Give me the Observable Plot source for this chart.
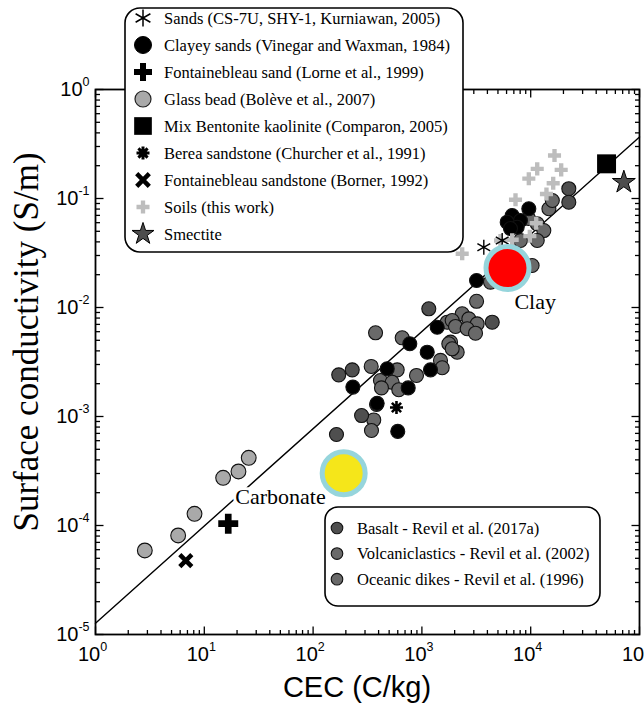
<!DOCTYPE html>
<html><head><meta charset="utf-8">
<script src="https://cdn.jsdelivr.net/npm/d3@7"></script>
<script src="https://cdn.jsdelivr.net/npm/@observablehq/plot@0.6"></script>
<style>html,body{margin:0;padding:0;background:#fff}svg{display:block}</style>
</head><body><div id="chart"></div>
<script>
// ---- data: [CEC (C/kg), surface conductivity (S/m)] ----
const fitLine = [[1, 1.27e-5], [1e5, 0.366]];
const sands = [[3707, 0.0357], [5470, 0.0412]];
const clayeySands = [[3180,0.0177],[1383,0.00659],[774,0.00465],[1119,0.00389],[1200,0.00268],[480,0.00274],[232,0.00186],[748,0.00183],[388,0.00132],[600,0.00073],[6760,0.0698],[8050,0.0628],[6080,0.0606],[7510,0.0545],[9610,0.0805],[6520,0.053]];
const fontainebleauSand = [[16.6, 1.04e-4]];
const glassBeads = [[2.84,5.9e-5],[5.75,8.1e-5],[8.13,1.28e-4],[14.9,2.74e-4],[20.6,3.13e-4],[25.6,4.18e-4]];
const mixBentonite = [[49800, 0.208]];
const berea = [[584, 0.00121]];
const fontainebleauSandstone = [[6.76, 4.77e-5]];
const soils = [[16550,0.248],[11480,0.187],[19060,0.183],[9610,0.152],[16100,0.138],[13960,0.110],[7250,0.0973],[11240,0.0593],[9820,0.0451],[6760,0.0418],[2346,0.0311],[5280,0.0412]];
const smectite = [[71800, 0.141]];
const basalt = [[1157,0.00973],[172,0.00241],[164,0.000684],[279,0.00102],[4430,0.00733],[22400,0.123],[22400,0.0925],[229,0.00268]];
const volcaniclastics = [[375,0.00586],[659,0.00527],[1709,0.00733],[1832,0.00481],[1482,0.00327],[1537,0.0028],[342,0.00288],[593,0.00268],[416,0.00214],[533,0.00206],[425,0.00183],[613,0.00176],[892,0.00238],[383,0.00129],[361,0.00093],[344,0.000744]];
const oceanicDikes = [[2346,0.00875],[2700,0.00787],[1898,0.0076],[3222,0.00708],[2037,0.0067],[2608,0.00638],[3110,0.00581],[1767,0.00465],[2110,0.00389],[1898,0.00418],[3180,0.0114],[14700,0.0805],[15800,0.0959],[11480,0.0586],[13200,0.0508],[11480,0.0412],[10300,0.0243],[8050,0.0412],[4270,0.0171],[9550,0.0656]];
const carbonate = [[191, 3.02e-4]];
const clay = [[6120, 0.0230]];
const annotations = [["Clay", 11000, 0.0112], ["Carbonate", 50.2, 1.81e-4]];

// ---- axis ticks ----
const xMajor = [1, 10, 100, 1000, 10000, 100000];
const yMajor = [1e-5, 1e-4, 1e-3, 1e-2, 1e-1, 1];
const mantissas = [2, 3, 4, 5, 6, 7, 8, 9];
const xMinor = xMajor.slice(0, -1).flatMap(d => mantissas.map(m => d * m));
const yMinor = yMajor.slice(0, -1).flatMap(d => mantissas.map(m => d * m));
const xTitle = "CEC (C/kg)";
const yTitle = "Surface conductivity (S/m)";

const legendTop = [
  "Sands (CS-7U, SHY-1, Kurniawan, 2005)",
  "Clayey sands (Vinegar and Waxman, 1984)",
  "Fontainebleau sand (Lorne et al., 1999)",
  "Glass bead (Bolève et al., 2007)",
  "Mix Bentonite kaolinite (Comparon, 2005)",
  "Berea sandstone (Churcher et al., 1991)",
  "Fontainebleau sandstone (Borner, 1992)",
  "Soils (this work)",
  "Smectite"
];
const legendBottom = [
  "Basalt - Revil et al. (2017a)",
  "Volcaniclastics - Revil et al. (2002)",
  "Oceanic dikes - Revil et al. (1996)"
];

// ---- custom symbols ----
const tickSym = (dx, dy) => ({draw(ctx) { ctx.moveTo(0, 0); ctx.lineTo(dx, dy); }});
const star8 = (L) => ({draw(ctx) {
  for (let k = 0; k < 4; k++) {
    const a = k * Math.PI / 4;
    ctx.moveTo(-L * Math.cos(a), -L * Math.sin(a));
    ctx.lineTo(L * Math.cos(a), L * Math.sin(a));
  }
}});
const timesSym = (L) => ({draw(ctx) { ctx.moveTo(-L, -L); ctx.lineTo(L, L); ctx.moveTo(-L, L); ctx.lineTo(L, -L); }});

const X = d => d[0], Y = d => d[1];
const circ = (data, fill, r = 7) => Plot.dot(data, {x: X, y: Y, r, fill, stroke: "#111", strokeWidth: 1.1});

const plot = Plot.plot({
  width: 644, height: 706,
  marginLeft: 95, marginRight: 5, marginTop: 89, marginBottom: 72,
  style: {fontFamily: "'Liberation Sans', Arial, sans-serif", fontSize: "19px", color: "black", background: "white"},
  x: {type: "log", domain: [1, 1e5]},
  y: {type: "log", domain: [1e-5, 1]},
  marks: [
    Plot.line(fitLine, {x: X, y: Y, stroke: "black", strokeWidth: 1.4}),
    circ(glassBeads, "#a9a9a9", 7.4),
    circ(volcaniclastics, "#6a6a6a"),
    circ(oceanicDikes, "#696969"),
    circ(basalt, "#4f4f4f"),
    circ(clayeySands, "black"),
    Plot.dot(soils, {x: X, y: Y, symbol: "cross", r: 5.5, fill: "#bdbdbd"}),
    Plot.dot(sands, {x: X, y: Y, symbol: "asterisk", r: 7, stroke: "black", strokeWidth: 1.4}),
    Plot.dot(berea, {x: X, y: Y, symbol: star8(6.5), r: 7, fill: "none", stroke: "black", strokeWidth: 2.6}),
    Plot.dot(fontainebleauSand, {x: X, y: Y, symbol: "cross", r: 8.4, fill: "black"}),
    Plot.dot(fontainebleauSandstone, {x: X, y: Y, symbol: timesSym(6), r: 6, fill: "none", stroke: "black", strokeWidth: 4.5}),
    Plot.dot(mixBentonite, {x: X, y: Y, symbol: "square", r: 10.7, fill: "black"}),
    Plot.dot(smectite, {x: X, y: Y, symbol: "star", r: 7.2, fill: "#4d4d4d", stroke: "black", strokeWidth: 1}),
    Plot.dot(carbonate, {x: X, y: Y, r: 21.5, fill: "#f5e61a", stroke: "#96d5dc", strokeWidth: 5}),
    Plot.dot(clay, {x: X, y: Y, r: 21.5, fill: "#ff0000", stroke: "#96d5dc", strokeWidth: 5}),
    Plot.text(annotations, {x: d => d[1], y: d => d[2], text: d => d[0], fontFamily: "'Liberation Serif', 'Times New Roman', serif", fontSize: 22, fill: "black", stroke: "white", strokeWidth: 6}),
    // inward ticks on all four sides
    Plot.dot(xMajor, {x: d => d, frameAnchor: "bottom", symbol: tickSym(0, -8), r: 3, fill: "none", stroke: "black", strokeWidth: 1.3}),
    Plot.dot(xMinor, {x: d => d, frameAnchor: "bottom", symbol: tickSym(0, -4.5), r: 3, fill: "none", stroke: "black", strokeWidth: 1.3}),
    Plot.dot(xMajor, {x: d => d, frameAnchor: "top", symbol: tickSym(0, 8), r: 3, fill: "none", stroke: "black", strokeWidth: 1.3}),
    Plot.dot(xMinor, {x: d => d, frameAnchor: "top", symbol: tickSym(0, 4.5), r: 3, fill: "none", stroke: "black", strokeWidth: 1.3}),
    Plot.dot(yMajor, {y: d => d, frameAnchor: "left", symbol: tickSym(8, 0), r: 3, fill: "none", stroke: "black", strokeWidth: 1.3}),
    Plot.dot(yMinor, {y: d => d, frameAnchor: "left", symbol: tickSym(4.5, 0), r: 3, fill: "none", stroke: "black", strokeWidth: 1.3}),
    Plot.dot(yMajor, {y: d => d, frameAnchor: "right", symbol: tickSym(-8, 0), r: 3, fill: "none", stroke: "black", strokeWidth: 1.3}),
    Plot.dot(yMinor, {y: d => d, frameAnchor: "right", symbol: tickSym(-4.5, 0), r: 3, fill: "none", stroke: "black", strokeWidth: 1.3}),
    Plot.frame({stroke: "black", strokeWidth: 1.8}),
    Plot.axisX({ticks: xMajor, tickSize: 0, tickPadding: 12, label: null, fontSize: 20, tickFormat: d => "10|" + Math.round(Math.log10(d))}),
    Plot.axisY({ticks: yMajor, tickSize: 0, tickPadding: 6, label: null, fontSize: 20, tickFormat: d => "10|" + Math.round(Math.log10(d))})
  ]
});

const svg = d3.select(plot);
// superscript exponents on tick labels
svg.selectAll('g[aria-label="x-axis tick label"] text, g[aria-label="y-axis tick label"] text').each(function() {
  const parts = this.textContent.split("|");
  const t = d3.select(this);
  t.text(null);
  t.append("tspan").text(parts[0]);
  t.append("tspan").attr("font-size", 12.5).attr("dy", -10).text(parts[1].replace("−", "-"));
});
svg.selectAll('g[aria-label="x-axis tick label"] text').attr("dx", -3);

// axis titles
svg.append("text").attr("x", 357).attr("y", 697).attr("text-anchor", "middle")
  .attr("font-family", "'Liberation Sans', Arial, sans-serif").attr("font-size", 29).attr("fill", "black").text(xTitle);
svg.append("text").attr("transform", "translate(38,342) rotate(-90)").attr("text-anchor", "middle")
  .attr("font-family", "'Liberation Serif', 'Times New Roman', serif").attr("font-size", 35).attr("fill", "black").text(yTitle);

// top-left legend
const serif = "'Liberation Serif', 'Times New Roman', serif";
const lg = svg.append("g").attr("text-anchor", "start");
lg.append("rect").attr("x", 125).attr("y", 8).attr("width", 338).attr("height", 244).attr("rx", 15)
  .attr("fill", "white").attr("stroke", "black").attr("stroke-width", 1.6);
const sym = (type, size) => d3.symbol(type, size)();
const topSyms = [
  {d: sym(d3.symbolAsterisk, 205), fill: "none", stroke: "black", sw: 1.5},
  {d: sym(d3.symbolCircle, 227), fill: "black", stroke: "black", sw: 1},
  {d: sym(d3.symbolCross, 180), fill: "black", stroke: "none", sw: 0},
  {d: sym(d3.symbolCircle, 201), fill: "#a9a9a9", stroke: "#222", sw: 1.2},
  {d: sym(d3.symbolSquare, 313), fill: "black", stroke: "none", sw: 0},
  {d: d3.symbol(star8(6.5), 1)(), fill: "none", stroke: "black", sw: 3},
  {d: d3.symbol(timesSym(6.3), 1)(), fill: "none", stroke: "black", sw: 4.5},
  {d: sym(d3.symbolCross, 94), fill: "#bdbdbd", stroke: "none", sw: 0},
  {d: sym(d3.symbolStar, 150), fill: "#4d4d4d", stroke: "black", sw: 1}
];
legendTop.forEach((label, i) => {
  const y = 18 + 27 * i;
  const s = topSyms[i];
  lg.append("path").attr("d", s.d).attr("transform", `translate(143,${y})`)
    .attr("fill", s.fill).attr("stroke", s.stroke).attr("stroke-width", s.sw);
  lg.append("text").attr("x", 164).attr("y", y).attr("dy", "0.35em").attr("text-anchor", "start")
    .attr("font-family", serif).attr("font-size", 16.5).attr("fill", "black").text(label);
});

// bottom-right legend
const lb = svg.append("g").attr("text-anchor", "start");
lb.append("rect").attr("x", 325).attr("y", 507).attr("width", 275).attr("height", 99).attr("rx", 13)
  .attr("fill", "white").attr("stroke", "black").attr("stroke-width", 1.6);
const bottomFills = ["#4f4f4f", "#6a6a6a", "#696969"];
legendBottom.forEach((label, i) => {
  const y = 528 + 25.6 * i;
  lb.append("circle").attr("cx", 337).attr("cy", y).attr("r", 5.8)
    .attr("fill", bottomFills[i]).attr("stroke", "#111").attr("stroke-width", 1.1);
  lb.append("text").attr("x", 357).attr("y", y).attr("dy", "0.35em").attr("text-anchor", "start")
    .attr("font-family", serif).attr("font-size", 16.5).attr("fill", "black").text(label);
});

document.getElementById("chart").appendChild(plot);
</script>
</body></html>
